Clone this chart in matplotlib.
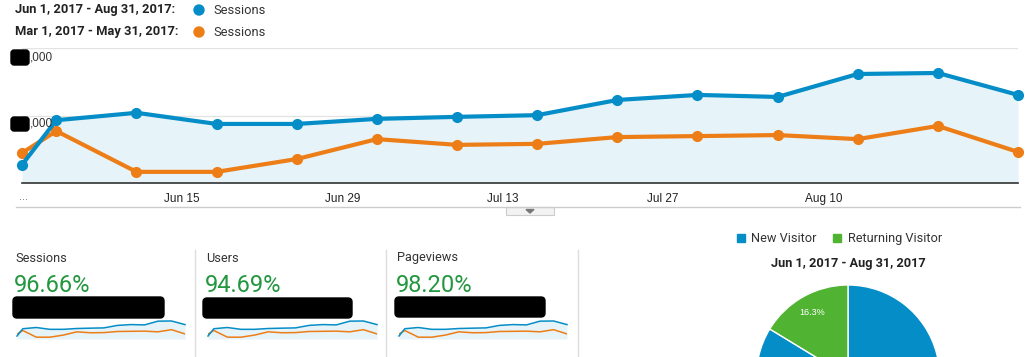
import matplotlib
matplotlib.use("Agg")
import matplotlib.pyplot as plt
from matplotlib.patches import FancyBboxPatch, Rectangle, Circle, Polygon
import pandas as pd

# ---------------- data ----------------
week_dates = ["2017-06-01", "2017-06-04", "2017-06-11", "2017-06-18", "2017-06-25",
              "2017-07-02", "2017-07-09", "2017-07-16", "2017-07-23", "2017-07-30",
              "2017-08-06", "2017-08-13", "2017-08-20", "2017-08-27"]
sessions_current = [270, 930, 1040, 875, 875, 950, 980, 1005, 1230, 1305, 1275, 1615, 1630, 1305]
sessions_previous = [445, 770, 165, 165, 355, 650, 565, 580, 680, 695, 710, 650, 845, 460]
tick_dates = ["2017-06-15", "2017-06-29", "2017-07-13", "2017-07-27", "2017-08-10"]
tick_labels = ["Jun 15", "Jun 29", "Jul 13", "Jul 27", "Aug 10"]
y_ticks = [1000, 2000]

period_current = "Jun 1, 2017 - Aug 31, 2017:"
period_previous = "Mar 1, 2017 - May 31, 2017:"
metric_name = "Sessions"

kpi_names = ["Sessions", "Users", "Pageviews"]
kpi_values = ["96.66%", "94.69%", "98.20%"]

pie_labels = ["New Visitor", "Returning Visitor"]
pie_values = [83.7, 16.3]
pie_title = "Jun 1, 2017 - Aug 31, 2017"

# ---------------- style ----------------
BLUE = "#058DC7"
ORANGE = "#ED7E17"
FILL = "#E6F3F9"
GREEN_PIE = "#50B432"
GREEN_TXT = "#22973F"
W, H = 1033, 357

fig = plt.figure(figsize=(W / 100, H / 100), dpi=100)
fig.patch.set_facecolor("white")


def px_axes(x0, y0, x1, y1, **kw):
    """axes from image-pixel box (y measured from top)"""
    return fig.add_axes([x0 / W, (H - y1) / H, (x1 - x0) / W, (y1 - y0) / H], **kw)


dates = pd.to_datetime(week_dates)
tdates = pd.to_datetime(tick_dates)

# ---------------- main chart ----------------
ax = px_axes(22, 48, 1018, 183)
ax.fill_between(dates, sessions_current, 0, color=FILL, zorder=1, linewidth=0)
for v in y_ticks:
    ax.axhline(v, color="#E3E3E3", lw=0.9, zorder=0.5)
ax.plot(dates, sessions_previous, color=ORANGE, lw=3.0, marker="o", ms=7,
        zorder=3, clip_on=False, solid_joinstyle="round")
ax.plot(dates, sessions_current, color=BLUE, lw=3.0, marker="o", ms=7,
        zorder=4, clip_on=False, solid_joinstyle="round")
ax.set_xlim(dates[0], dates[-1])
ax.set_ylim(0, 2000)
for s in ["top", "right", "left"]:
    ax.spines[s].set_visible(False)
ax.spines["bottom"].set_color("#333333")
ax.spines["bottom"].set_linewidth(1.2)
ax.set_yticks([])
ax.set_xticks(tdates)
ax.set_xticklabels(tick_labels, fontsize=8.5, color="#222222", family="Liberation Sans")
ax.tick_params(axis="x", length=0, pad=7)
ax.set_facecolor("none")

# ---------------- overlay (pixel coords) ----------------
ov = fig.add_axes([0, 0, 1, 1], zorder=10)
ov.set_xlim(0, W)
ov.set_ylim(H, 0)
ov.axis("off")

# y labels (partly redacted in the original)
for v, yp in zip(y_ticks, [124, 57]):
    ov.text(53, yp, ",000", ha="right", va="center", fontsize=8.5, color="#333333",
            family="Liberation Sans", zorder=14)
for (x0, y0, x1, y1) in [(11, 50, 29, 65), (11, 117, 29, 131)]:
    ov.add_patch(FancyBboxPatch((x0 + 3, y0 + 3), x1 - x0 - 6, y1 - y0 - 6,
                                boxstyle="round,pad=3", color="black", zorder=12))

# header legend
hdr_font = dict(family="Roboto", fontsize=9.3, color="#222222")
ov.text(15, 10, period_current, fontweight="bold", va="center", ha="left", **hdr_font)
ov.text(15, 32, period_previous, fontweight="bold", va="center", ha="left", **hdr_font)
ov.add_patch(Circle((199, 10), 5, color=BLUE))
ov.add_patch(Circle((199, 32), 5, color=ORANGE))
ov.text(213, 10, metric_name, va="center", ha="left", family="Roboto", fontsize=9.3, color="#333333")
ov.text(213, 32, metric_name, va="center", ha="left", family="Roboto", fontsize=9.3, color="#333333")

# "..." start label
ov.text(23, 197, "...", ha="center", va="center", fontsize=8, color="#666666",
        family="Liberation Sans")

# separator line + toggle button
ov.plot([16, 1020], [207, 207], color="#CCCCCC", lw=1)
ov.add_patch(Rectangle((506, 207), 48, 8, facecolor="#F2F2F2", edgecolor="#CCCCCC", lw=0.8))
ov.add_patch(Polygon([[526, 209.5], [534, 209.5], [530, 213]], closed=True, color="#777777"))

# KPI blocks
kpi_x = [15, 206, 397]
spark_x = [(17, 185), (208, 377), (399, 567)]
blobs = [(13, 297, 164, 318), (203, 298, 352, 318), (395, 297, 545, 317)]
for xd in [195, 386, 578]:
    ov.plot([xd, xd], [250, H], color="#DDDDDD", lw=1)
for name, val, x in zip(kpi_names, kpi_values, kpi_x):
    ov.text(x, 258, name, ha="left", va="center", family="Roboto", fontsize=9.2, color="#333333")
    ov.text(x - 1, 286, val, ha="left", va="center", family="Roboto", fontweight="normal",
            fontsize=17, color=GREEN_TXT)
for (x0, y0, x1, y1) in blobs:
    ov.add_patch(FancyBboxPatch((x0 + 4, y0 + 4), x1 - x0 - 8, y1 - y0 - 8,
                                boxstyle="round,pad=4", color="black", zorder=12))

for (x0, x1) in spark_x:
    sa = px_axes(x0, 319, x1, 339)
    sa.fill_between(dates, sessions_current, 0, color=FILL, linewidth=0)
    sa.plot(dates, sessions_previous, color=ORANGE, lw=1.1)
    sa.plot(dates, sessions_current, color=BLUE, lw=1.1, clip_on=False)
    sa.set_xlim(dates[0], dates[-1])
    sa.set_ylim(0, 1810)
    sa.axis("off")

# pie legend + title
ov.add_patch(Rectangle((737, 234), 8, 8, color=BLUE))
ov.text(751, 238.5, pie_labels[0], ha="left", va="center", family="Roboto", fontsize=9.2, color="#333333")
ov.add_patch(Rectangle((833, 234), 8, 8, color=GREEN_PIE))
ov.text(848, 238.5, pie_labels[1], ha="left", va="center", family="Roboto", fontsize=9.2, color="#333333")
ov.text(848, 264, pie_title, ha="center", va="center", family="Roboto", fontweight="bold",
        fontsize=9.2, color="#222222")

# pie (only the returning-visitor label falls inside the visible area)
r = 91.6
cx, cy = 848, 376.6
pa = px_axes(cx - r, cy - r, cx + r, cy + r)
wedges, texts, autotexts = pa.pie(pie_values, colors=[BLUE, GREEN_PIE], startangle=90,
                                  counterclock=False,
                                  autopct=lambda p: f"{p:.1f}%" if p < 50 else "",
                                  pctdistance=0.8, radius=1,
                                  wedgeprops=dict(edgecolor="white", linewidth=1),
                                  textprops=dict(color="white", fontsize=6.5, family="Liberation Sans"))
pa.set_xlim(-1, 1)
pa.set_ylim(-1, 1)
pa.set_aspect("auto")
pa.axis("off")

fig.savefig("out.png", dpi=100, facecolor="white")
